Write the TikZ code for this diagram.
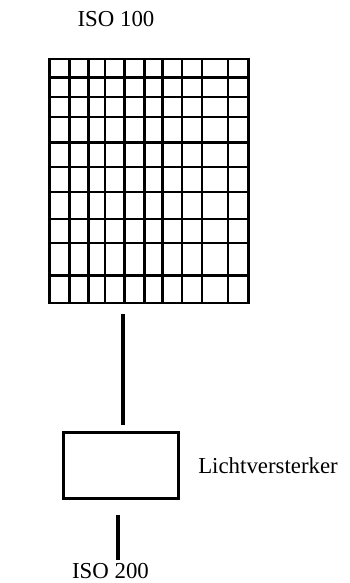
\documentclass[tikz,border=0pt]{standalone}
\usepackage{fontspec}
\setmainfont{Liberation Serif}
\usetikzlibrary{positioning}

\begin{document}
\begin{tikzpicture}[
    label/.style={font=\fontsize{19.5pt}{23pt}\selectfont},
    cell/.style={line width=1.9pt},
    wire/.style={line width=2.8pt}]
    \useasboundingbox (0,0) rectangle (10.47,17.49);
    \node[draw, cell, minimum width=5.97cm, minimum height=7.32cm] (grid) at (4.47,12.06) {};
    \foreach \x in {2.085, 2.655, 3.15, 3.735, 4.335, 4.875, 5.46, 6.06, 6.84}
        \draw[cell] (grid.south -| \x,0) -- (grid.north -| \x,0);
    \foreach \y in {15.165, 14.58, 13.98, 13.215, 12.48, 11.73, 10.92, 10.2, 9.225}
        \draw[cell] (grid.west |- 0,\y) -- (grid.east |- 0,\y);
    \node[label] (iso100) at (3.48,16.92) {ISO 100};
    \node[draw, wire, minimum width=3.45cm, minimum height=1.97cm] (amp) at (3.63,3.525) {};
    \node[label, right=0.42cm of amp] (lv) {Lichtversterker};
    \node[label] (iso200) at (3.315,0.345) {ISO 200};
    \draw[wire, shorten <=0.3cm, shorten >=0.17cm] ([xshift=0.06cm]amp.north |- grid.south) -- ([xshift=0.06cm]amp.north);
    \draw[wire, shorten <=0.44cm] ([xshift=-0.09cm]amp.south) -- ([xshift=-0.09cm]amp.south |- iso200.north);
\end{tikzpicture}
\end{document}
